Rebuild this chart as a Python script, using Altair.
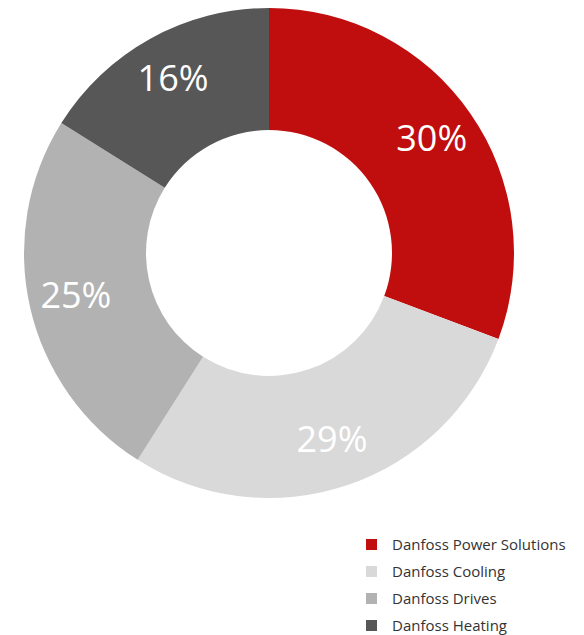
import altair as alt
import pandas as pd

categories = ["Danfoss Power Solutions", "Danfoss Cooling", "Danfoss Drives", "Danfoss Heating"]
values = [30.7, 28.3, 24.9, 16.1]
labels = ["30%", "29%", "25%", "16%"]
colors = ["#C00D0D", "#D9D9D9", "#B2B2B2", "#575757"]

df = pd.DataFrame({"cat": categories, "val": values, "label": labels, "idx": list(range(len(values)))})

CX, CY = 261, 245

base = alt.Chart(df).encode(
    theta=alt.Theta("val:Q", stack=True),
    order=alt.Order("idx:Q"),
)

arcs = base.mark_arc(outerRadius=245, innerRadius=123).encode(
    x=alt.value(CX), y=alt.value(CY),
    color=alt.Color("cat:N", scale=alt.Scale(domain=categories, range=colors),
                    legend=alt.Legend(title=None, orient="none", legendX=356, legendY=529,
                                      symbolType="square", symbolSize=121, symbolStrokeWidth=0,
                                      labelFont="Open Sans", labelFontSize=15, labelColor="#333333",
                                      labelOffset=13, rowPadding=11, padding=0, labelLimit=0)),
)

text = base.mark_text(radius=198, font="Open Sans", fontSize=36, color="white").encode(
    x=alt.value(CX), y=alt.value(CY),
    text="label:N",
)

chart = (arcs + text).properties(
    width=568, height=627, autosize="none", padding=0
).configure_view(stroke=None)

chart.save("out.html", embed_options={"renderer": "svg", "actions": False})
